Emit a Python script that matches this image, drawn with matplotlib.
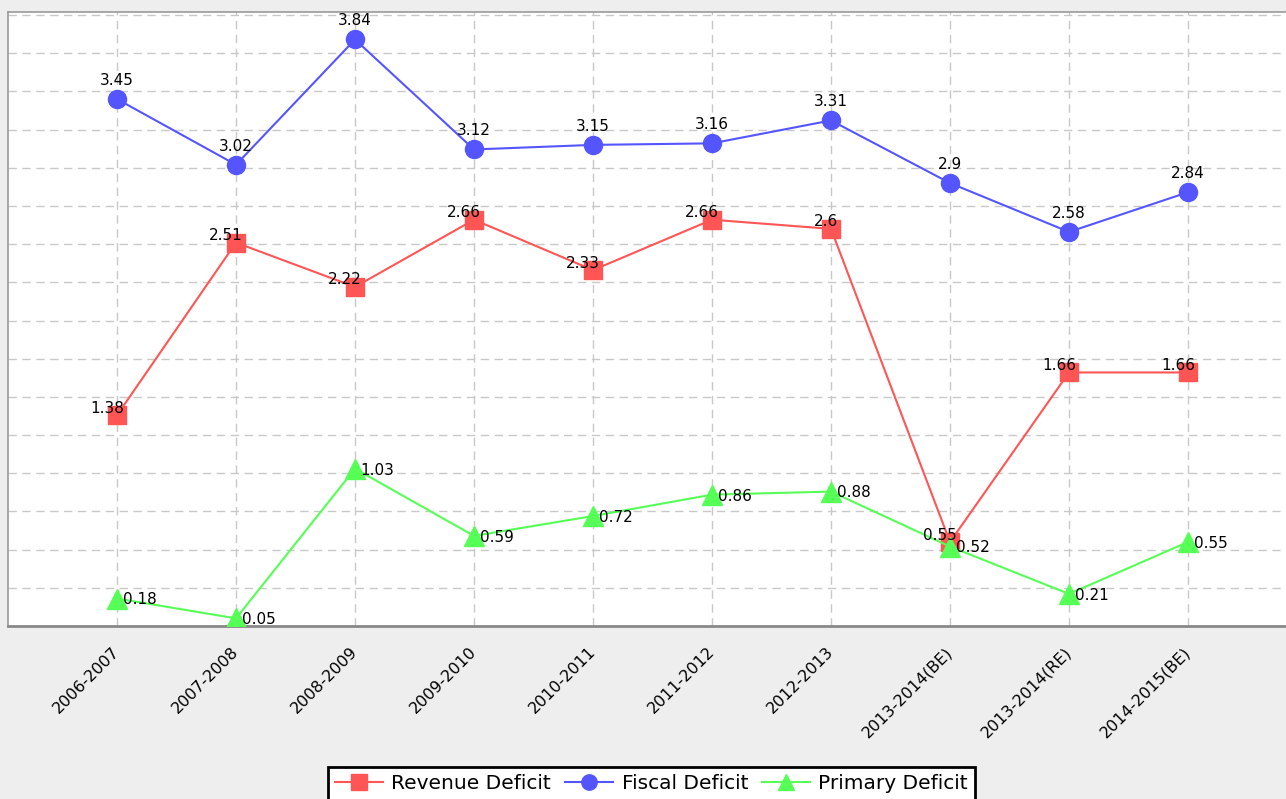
#!/usr/bin/env python3
"""Deficit indicators (% of GDP) by year -- line chart with item labels."""
import matplotlib
matplotlib.use("Agg")
import matplotlib.pyplot as plt
import numpy as np

# ---------------------------------------------------------------------------
# Data
# ---------------------------------------------------------------------------
years = ["2006-2007", "2007-2008", "2008-2009", "2009-2010", "2010-2011",
         "2011-2012", "2012-2013", "2013-2014(BE)", "2013-2014(RE)", "2014-2015(BE)"]
revenue_deficit = [1.38, 2.51, 2.22, 2.66, 2.33, 2.66, 2.6, 0.55, 1.66, 1.66]
fiscal_deficit = [3.45, 3.02, 3.84, 3.12, 3.15, 3.16, 3.31, 2.9, 2.58, 2.84]
primary_deficit = [0.18, 0.05, 1.03, 0.59, 0.72, 0.86, 0.88, 0.52, 0.21, 0.55]

# ---------------------------------------------------------------------------
# Style
# ---------------------------------------------------------------------------
OUTER_BG = "#eeeeee"
GRID_COL = "#c8c8c8"
RED = "#ff5555"
BLUE = "#5555ff"
GREEN = "#55ff55"

plt.rcParams.update({
    "font.family": "DejaVu Sans",
    "figure.facecolor": OUTER_BG,
})

W, H = 1286, 799
fig = plt.figure(figsize=(W / 100, H / 100), dpi=100)
ax = fig.add_axes([8 / W, 1 - 626 / H, 1 - 8 / W, (626 - 12) / H])
ax.set_facecolor("white")

x = np.arange(len(years))

ax.plot(x, revenue_deficit, color=RED, lw=1.5, marker="s", ms=13, label="Revenue Deficit", zorder=3)
ax.plot(x, fiscal_deficit, color=BLUE, lw=1.5, marker="o", ms=13, label="Fiscal Deficit", zorder=3)
ax.plot(x, primary_deficit, color=GREEN, lw=1.5, marker="^", ms=14, label="Primary Deficit", zorder=3)

# item labels
for xi, v in zip(x, revenue_deficit):
    ax.annotate(f"{v:g}", (xi, v), xytext=(5, 5), textcoords="offset points",
                ha="right", va="center", fontsize=11, zorder=5)
for xi, v in zip(x, fiscal_deficit):
    ax.annotate(f"{v:g}", (xi, v), xytext=(0, 8), textcoords="offset points",
                ha="center", va="bottom", fontsize=11, zorder=5)
for xi, v in zip(x, primary_deficit):
    ax.annotate(f"{v:g}", (xi, v), xytext=(4, -1), textcoords="offset points",
                ha="left", va="center", fontsize=11, zorder=5)

ax.set_xlim((8 - 117) / 119, (W - 117) / 119)
ax.set_ylim(0, 4.02)
ax.set_yticks(np.arange(0.25, 4.01, 0.25))
ax.set_xticks(x)
ax.set_xticklabels(years, rotation=45, ha="right", va="center",
                   rotation_mode="anchor", fontsize=11.5)
ax.tick_params(axis="x", length=0, pad=17)
ax.tick_params(axis="y", length=0, labelleft=False)

ax.grid(True, color=GRID_COL, lw=1.0, linestyle=(0, (6, 4)))
ax.set_axisbelow(True)

for side in ("top", "left"):
    ax.spines[side].set_color("#999999")
    ax.spines[side].set_linewidth(1.2)
ax.spines["bottom"].set_color("#888888")
ax.spines["bottom"].set_linewidth(2)
ax.spines["right"].set_visible(False)

leg = fig.legend(loc="upper center", bbox_to_anchor=(651.5 / W, 1 - 757 / H),
                 ncol=3, fontsize=14.5, frameon=True, fancybox=False,
                 edgecolor="black", handlelength=2.4, handletextpad=0.4,
                 columnspacing=0.7, borderpad=0.35, markerscale=0.85)
leg.get_frame().set_linewidth(2)
leg.get_frame().set_facecolor("white")
leg.get_frame().set_alpha(1)

fig.savefig("out.png", dpi=100, facecolor=OUTER_BG)
